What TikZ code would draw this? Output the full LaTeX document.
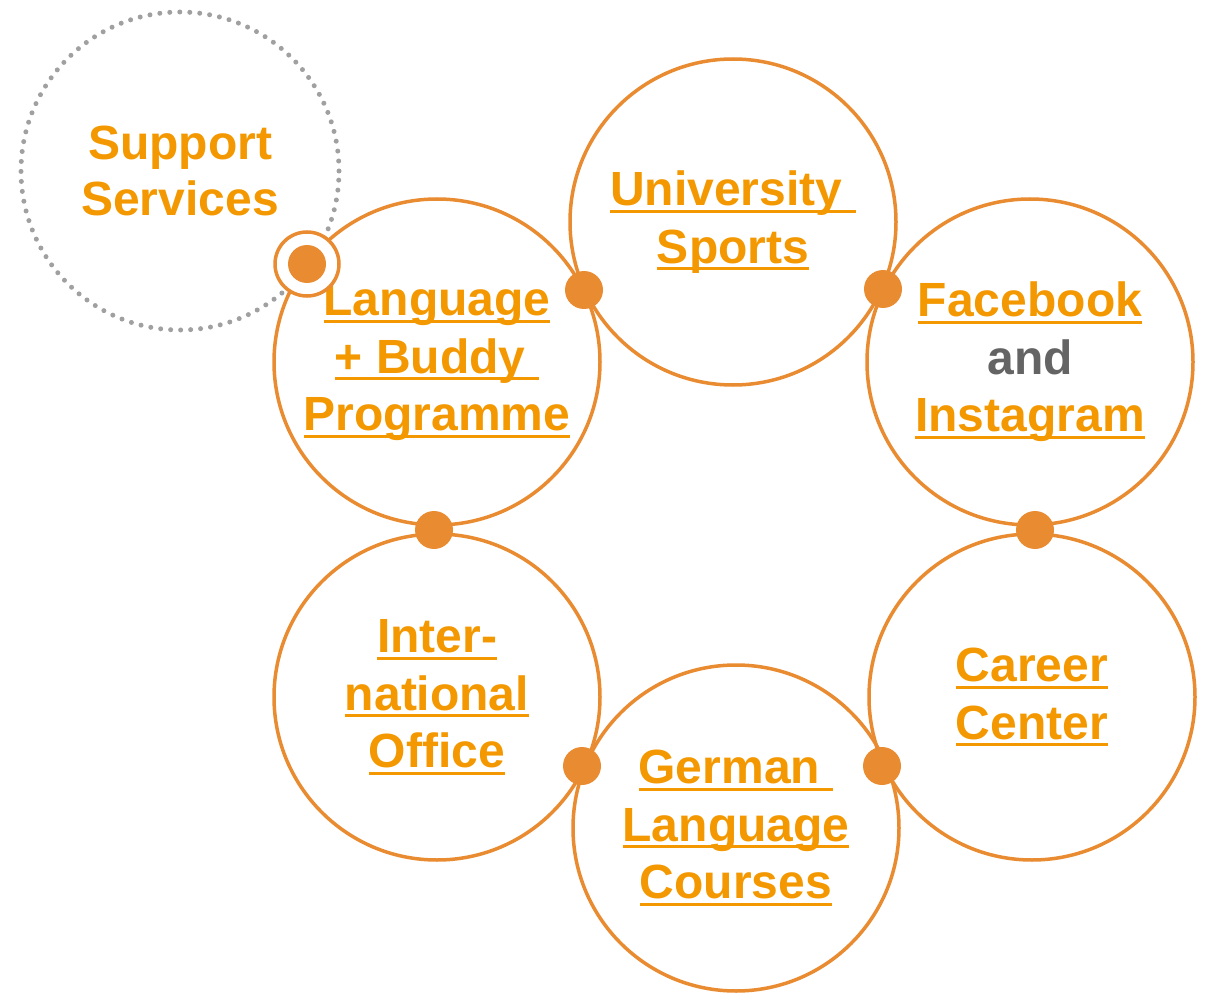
\documentclass[tikz,border=0pt]{standalone}
\usepackage{fontspec}
\setmainfont{Liberation Sans}
\usepackage{xcolor}
\definecolor{ringorange}{RGB}{233,139,49}
\definecolor{linkorange}{RGB}{243,152,0}
\definecolor{andgray}{RGB}{100,100,100}
\definecolor{dotgray}{RGB}{160,160,160}
\newcommand{\ulink}[1]{\setbox0\hbox{#1}\rlap{\color{linkorange}\rule[-7pt]{\wd0}{3pt}}\box0}

\tikzset{
  bubble/.style={circle, draw=ringorange, line width=3.5pt, minimum size=326pt, inner sep=0pt,
    font=\fontsize{48}{57.5}\selectfont\bfseries, text=linkorange, align=center},
  joint/.style={circle, fill=ringorange, minimum size=38pt, inner sep=0pt},
}

\begin{document}
\begin{tikzpicture}[x=1pt,y=-1pt]
\useasboundingbox (0,0) rectangle (1211,995);

% support services (dotted)
\node[circle, draw=dotgray, line width=5pt, dash pattern=on 0pt off 10pt, line cap=round,
  minimum size=318pt, inner sep=0pt, font=\fontsize{48}{56}\selectfont\bfseries,
  text=linkorange, align=center] (support) at (180,171) {Support\\Services};

% the six offers
\node[bubble] (buddy) at (437,362) {\ulink{Language}\\\ulink{+ Buddy }\\\ulink{Programme}};
\node[bubble] (sports) at (733,222) {\ulink{University }\\\ulink{Sports}};
\node[bubble] (social) at (1030,362) {\ulink{Facebook}\\{\color{andgray}and}\\\ulink{Instagram}};
\node[bubble] (career) at (1032,697) {\ulink{Career}\\\ulink{Center}};
\node[bubble] (german) at (736,828) {\ulink{German }\\\ulink{Language}\\\ulink{Courses}};
\node[bubble] (office) at (437,697) {\ulink{Inter-}\\\ulink{national}\\\ulink{Office}};

% joints
\node[circle, draw=ringorange, line width=3.5pt, fill=white, minimum size=64pt, inner sep=0pt] (hub) at (307,264) {};
\node[joint] (hubdot) at (hub) {};
\node[joint] (j1) at (584,290) {};
\node[joint] (j2) at (883,289) {};
\node[joint] (j3) at (1035,530) {};
\node[joint] (j4) at (882,766) {};
\node[joint] (j5) at (582,766) {};
\node[joint] (j6) at (434,530) {};

\end{tikzpicture}
\end{document}
